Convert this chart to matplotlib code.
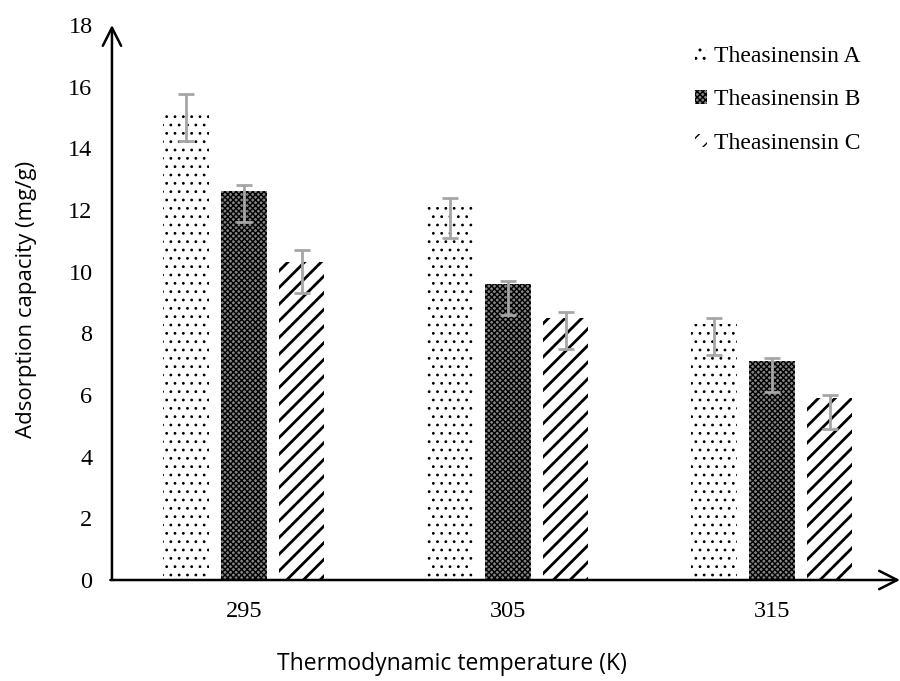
"""Adsorption capacity of theasinensins at three temperatures, grouped bars."""

import matplotlib

matplotlib.use("Agg")
import matplotlib.pyplot as plt
import numpy as np

temperatures = ["295", "305", "315"]
series_names = ["Theasinensin A", "Theasinensin B", "Theasinensin C"]
capacity_a = [15.2, 12.1, 8.3]
capacity_b = [12.6, 9.6, 7.1]
capacity_c = [10.3, 8.5, 5.9]
err_up_a = [0.55, 0.3, 0.2]
err_up_b = [0.2, 0.1, 0.1]
err_up_c = [0.4, 0.2, 0.1]
err_down_a = [0.95, 1.0, 1.0]
err_down_b = [1.0, 1.0, 1.0]
err_down_c = [1.0, 1.0, 1.0]

HATCHES = ["..", "xxxxxx", "//"]
HATCH_WIDTHS = [0.8, 1.0, 2.0]
FACES = ["white", "#858585", "white"]
SERIF = "Liberation Serif"
SANS = "Open Sans"

fig = plt.figure(figsize=(9, 6.81), dpi=100)
ax = fig.add_axes([0.1244, 0.1483, 0.8756, 0.815])

x = np.arange(len(temperatures))
width = 0.174
step = 0.218
values = [capacity_a, capacity_b, capacity_c]
ups = [err_up_a, err_up_b, err_up_c]
downs = [err_down_a, err_down_b, err_down_c]

handles = []
for i, name in enumerate(series_names):
    pos = x + (i - 1) * step
    with plt.rc_context({"hatch.linewidth": HATCH_WIDTHS[i], "hatch.color": "black"}):
        bars = ax.bar(pos, values[i], width, color=FACES[i], edgecolor="black",
                      linewidth=0, hatch=HATCHES[i], label=name, zorder=2)
    ax.errorbar(pos, values[i], yerr=[downs[i], ups[i]], fmt="none",
                ecolor="#a6a6a6", elinewidth=2, capsize=5.5, capthick=2, zorder=3)
    handles.append(bars)

ax.set_xlim(-0.5, 2.485)
ax.set_ylim(0, 18)
ax.set_yticks(np.arange(0, 19, 2))
ax.set_xticks(x)
ax.set_xticklabels(temperatures)
ax.tick_params(axis="both", length=0, labelsize=17.5)
ax.tick_params(axis="y", pad=14)
ax.tick_params(axis="x", pad=15)
for label in ax.get_xticklabels() + ax.get_yticklabels():
    label.set_fontfamily(SERIF)
for spine in ax.spines.values():
    spine.set_visible(False)

arrow = dict(arrowstyle="->,head_length=0.65,head_width=0.33", color="black",
             lw=1.8, shrinkA=0, shrinkB=0, mutation_scale=20)
ax.annotate("", xy=(0, 1), xytext=(0, 0), xycoords="axes fraction",
            arrowprops=arrow, annotation_clip=False)
ax.annotate("", xy=(1, 0), xytext=(-0.002, 0), xycoords="axes fraction",
            arrowprops=arrow, annotation_clip=False)

ax.legend(handles=handles, loc="upper right", bbox_to_anchor=(0.98, 0.964),
          bbox_transform=fig.transFigure, frameon=False, handlelength=0.5,
          handleheight=0.5, handletextpad=0.3, labelspacing=0.95,
          prop={"family": SERIF, "size": 17})

fig.text(0.03, 0.56, "Adsorption capacity (mg/g)", rotation=90, ha="center",
         va="center", fontsize=16, family=SANS)
fig.text(0.502, 0.025, "Thermodynamic temperature (K)", ha="center",
         va="center", fontsize=16.5, family=SANS)

fig.savefig("out.png", dpi=100, facecolor="white")
